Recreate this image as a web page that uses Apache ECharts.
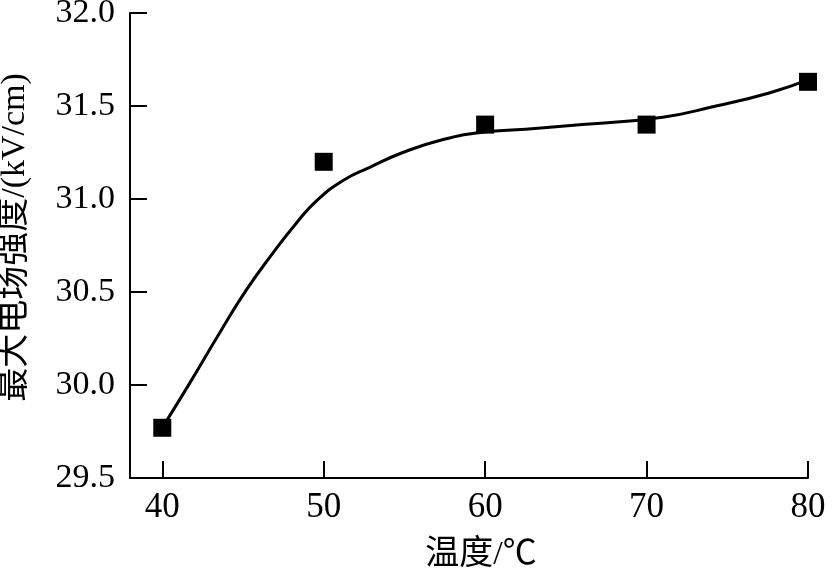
<!DOCTYPE html>
<html>
<head>
<meta charset="utf-8">
<script src="https://cdn.jsdelivr.net/npm/echarts@6/dist/echarts.min.js"></script>
<style>html,body{margin:0;padding:0;background:#fff;}#c{width:839px;height:570px;}</style>
</head>
<body>
<div id="c"></div>
<script>
const xTicks = [40, 50, 60, 70, 80];
const pointX = [40, 50, 60, 70, 80];
const pointY = [29.77, 31.20, 31.40, 31.40, 31.63];
const curveX = [40, 41.7, 43.55, 45.2, 46.86, 48.3, 49.55, 51.2, 52.85, 54.9, 57.4, 59.9, 62.5, 66, 71, 74.3, 77.6, 80];
const curveY = [29.77, 30.01, 30.28, 30.51, 30.71, 30.87, 30.99, 31.10, 31.17, 31.25, 31.32, 31.36, 31.375, 31.40, 31.44, 31.50, 31.57, 31.64];
const xName = '温度/℃';
const yName = '最大电场强度/(kV/cm)';

const FONT = '"Liberation Serif", "Noto Sans CJK SC", serif';
const chart = echarts.init(document.getElementById('c'), null, {renderer: 'canvas'});
chart.setOption({
  animation: false,
  backgroundColor: '#fff',
  grid: {left: 130, right: 31, top: 13, bottom: 92, containLabel: false, outerBoundsMode: 'none'},
  xAxis: {
    type: 'value', min: 38, max: 80,
    name: xName, nameLocation: 'middle', nameGap: 60,
    nameTextStyle: {fontFamily: FONT, fontSize: 34, color: '#000', padding: [0, 0, 0, 24]},
    axisLine: {lineStyle: {color: '#000', width: 2}},
    axisTick: {inside: true, length: 17, lineStyle: {color: '#000', width: 2}, customValues: xTicks},
    axisLabel: {customValues: xTicks, fontFamily: FONT, fontSize: 35, color: '#000', margin: 12},
    splitLine: {show: false}
  },
  yAxis: {
    type: 'value', min: 29.5, max: 32, interval: 0.5,
    name: yName, nameLocation: 'middle', nameGap: 98, nameRotate: 90,
    nameTextStyle: {fontFamily: FONT, fontSize: 34, color: '#000', padding: [0, 0, 0, 16]},
    axisLine: {show: true, lineStyle: {color: '#000', width: 2}},
    axisTick: {show: true, inside: true, length: 17, lineStyle: {color: '#000', width: 2}},
    axisLabel: {fontFamily: FONT, fontSize: 34, color: '#000', margin: 15, formatter: v => v.toFixed(1)},
    splitLine: {show: false}
  },
  series: [
    {
      type: 'line', smooth: 0.5, showSymbol: false, silent: true,
      lineStyle: {color: '#000', width: 3},
      data: curveX.map((x, i) => [x, curveY[i]]),
      z: 2
    },
    {
      type: 'scatter', symbol: 'rect', symbolSize: 18,
      itemStyle: {color: '#000', opacity: 1},
      data: pointX.map((x, i) => [x, pointY[i]]),
      z: 3
    }
  ]
});
</script>
</body>
</html>
